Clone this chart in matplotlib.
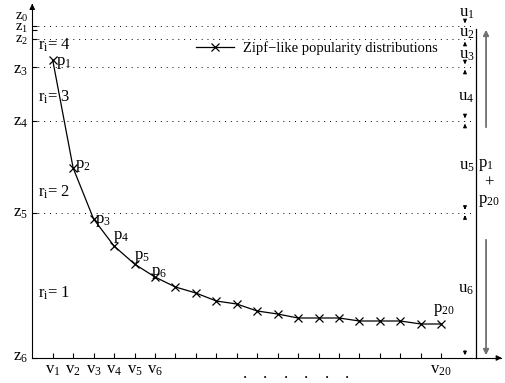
import matplotlib
matplotlib.use("Agg")
import matplotlib.pyplot as plt

plt.rcParams['font.family'] = ['Liberation Serif', 'DejaVu Serif']
plt.rcParams['mathtext.fontset'] = 'custom'
plt.rcParams['mathtext.rm'] = 'Liberation Serif'
plt.rcParams['mathtext.it'] = 'Liberation Serif:italic'

# 데이터
rank = list(range(1, 21))
popularity = [298, 190, 139, 112, 94, 81, 71, 65, 57, 54,
              47, 44, 40, 40, 40, 37, 37, 37, 34, 34]
z_levels = [332, 328.5, 319, 291, 237, 145.5, 0]
z_names = ['z_0', 'z_1', 'z_2', 'z_3', 'z_4', 'z_5', 'z_6']
v_names = ['v_1', 'v_2', 'v_3', 'v_4', 'v_5', 'v_6', 'v_{20}']
v_ranks = [1, 2, 3, 4, 5, 6, 20]
r_values = [4, 3, 2, 1]
u_names = ['u_1', 'u_2', 'u_3', 'u_4', 'u_5', 'u_6']

FS = 12      # 기호 라벨
FS_LEG = 10.5

fig = plt.figure(figsize=(5.05, 3.83), dpi=100)
ax = fig.add_axes([0, 0, 1, 1])
ax.set_xlim(-1.577, 23.117)
ax.set_ylim(-25, 358)

# 축
for s in ['top', 'right']:
    ax.spines[s].set_visible(False)
ax.spines['left'].set_position(('data', 0))
ax.spines['bottom'].set_position(('data', 0))
ax.spines['left'].set_bounds(0, 352)
ax.spines['bottom'].set_bounds(0, 22.9)
ax.annotate('', xy=(0, 357), xytext=(0, 350),
            arrowprops=dict(arrowstyle='-|>', color='black', lw=0.8, mutation_scale=8))
ax.annotate('', xy=(23.1, 0), xytext=(22.7, 0),
            arrowprops=dict(arrowstyle='-|>', color='black', lw=0.8, mutation_scale=8))

ax.set_xticks(rank)
ax.set_xticklabels(['$\\mathregular{%s}$' % v_names[v_ranks.index(r)] if r in v_ranks else ''
                    for r in rank], fontsize=FS)
ax.set_yticks(z_levels)
ax.set_yticklabels([])
ax.tick_params(axis='both', direction='in', length=3.5, width=0.8)
ax.tick_params(axis='x', pad=3)

# z 라벨 (위쪽 세 개는 겹치지 않게 띄움)
z_label_y = [341, 329.5, 318, 288, 236, 145, 1]
z_label_fs = [10.5, 10.5, 10.5, FS, FS, FS, FS]
for name, y, fs in zip(z_names, z_label_y, z_label_fs):
    ax.annotate('$\\mathregular{%s}$' % name, xy=(0, y), xytext=(-4, 0),
                textcoords='offset pixels', ha='right', va='center', fontsize=fs)

for i in range(10, 16):
    ax.annotate('.', xy=(i, 0), xytext=(8, -20), textcoords='offset pixels',
                ha='center', va='baseline', fontsize=FS)

# 점선
for z in [z_levels[0], z_levels[2], z_levels[3], z_levels[4], z_levels[5]]:
    ax.plot([0, 21.55], [z, z], color='black', lw=0.7, dashes=(1, 5))

# 곡선
ax.plot(rank, popularity, color='black', lw=0.9, marker='x', markersize=5.5,
        markeredgewidth=0.9, label='Zipf\u2212like popularity distributions')
ax.legend(loc='center left', bbox_to_anchor=(196 / 505, 1 - 48 / 383),
          bbox_transform=fig.transFigure, frameon=False, borderpad=0,
          borderaxespad=0, handlelength=2.6, handletextpad=0.6, fontsize=FS_LEG)

p_offsets = {1: (3, -3), 2: (2, 2), 3: (1, -2), 4: (-1, 9), 5: (-1, 7), 6: (-4, 4), 20: (-8, 14)}
for r, off in p_offsets.items():
    ax.annotate('$\\mathregular{p_{%d}}$' % r, xy=(r, popularity[r - 1]), xytext=off,
                textcoords='offset pixels', ha='left', va='center', fontsize=FS)

r_y = [313, 261, 166, 65]
for val, y in zip(r_values, r_y):
    ax.text(0.3, y, '$\\mathregular{r_i}$= %d' % val, ha='left', va='center', fontsize=FS)

# 오른쪽 구간 표시
xa, xb, xg = 21.16, 21.70, 22.19
u_y = [345, 325, 303, 261, 192, 69]
for name, y in zip(u_names, u_y):
    ax.text(21.62, y, '$\\mathregular{%s}$' % name, ha='right', va='center', fontsize=FS)

small = dict(arrowstyle='-|>', color='black', lw=0.8, mutation_scale=5)
ax.annotate('', xy=(xa, z_levels[0]), xytext=(xa, z_levels[0] + 8), arrowprops=small)
ax.annotate('', xy=(xa, z_levels[2]), xytext=(xa, z_levels[2] - 8), arrowprops=small)
for z in z_levels[3:6]:
    ax.annotate('', xy=(xa, z), xytext=(xa, z + 8), arrowprops=small)
    ax.annotate('', xy=(xa, z), xytext=(xa, z - 8), arrowprops=small)
ax.annotate('', xy=(xa, 0), xytext=(xa, 10), arrowprops=small)

ax.plot([xb, xb], [0, 329], color='black', lw=0.9)
gray = dict(arrowstyle='-|>', color='#707070', lw=1.3, mutation_scale=8)
ax.annotate('', xy=(xg, 331), xytext=(xg, 228), arrowprops=gray)
ax.annotate('', xy=(xg, 0), xytext=(xg, 121), arrowprops=gray)

ax.text(21.78, 193, '$\\mathregular{p_1}$', ha='left', va='center', fontsize=FS)
ax.text(22.33, 175, '+', ha='center', va='center', fontsize=FS)
ax.text(21.78, 157, '$\\mathregular{p_{20}}$', ha='left', va='center', fontsize=FS)

plt.savefig('out.png', dpi=100)
